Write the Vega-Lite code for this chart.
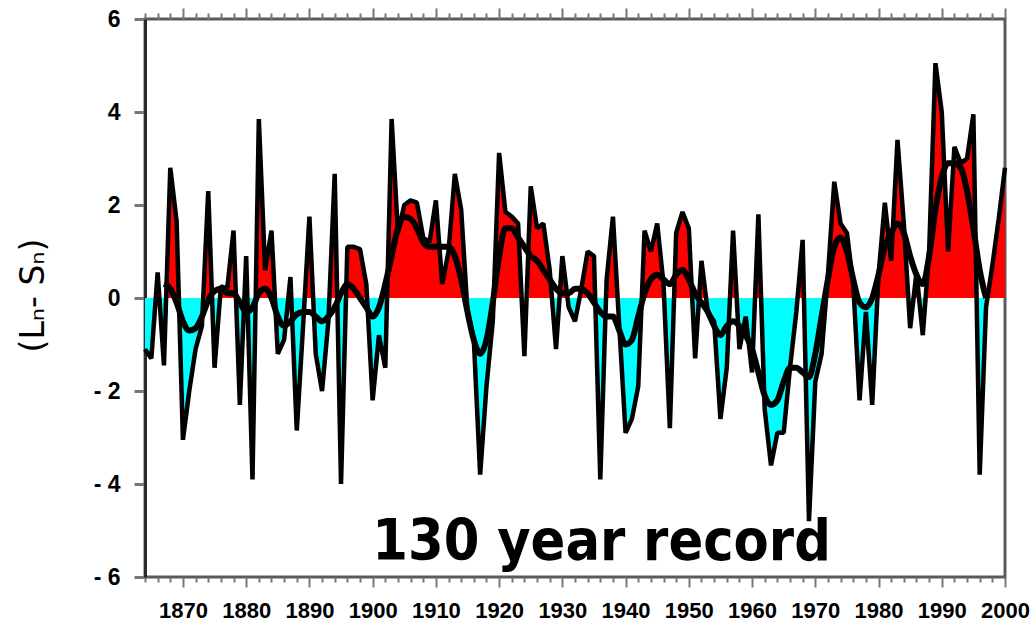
{
  "$schema": "https://vega.github.io/schema/vega-lite/v6.json",
  "width": 860,
  "height": 558,
  "autosize": "none",
  "padding": {"left": 145, "top": 19, "right": 31, "bottom": 49},
  "background": "white",
  "config": {"view": {"stroke": "#5a5a5a", "strokeWidth": 3}},
  "datasets": {
    "annual": [
      {"year":1864,"v":-1.1},{"year":1865,"v":-1.3},{"year":1866,"v":0.55},{"year":1867,"v":-1.45},{"year":1868,"v":2.8},{"year":1869,"v":1.65},
      {"year":1870,"v":-3.05},{"year":1871,"v":-2.0},{"year":1872,"v":-1.1},{"year":1873,"v":-0.6},{"year":1874,"v":2.3},{"year":1875,"v":-1.5},
      {"year":1876,"v":0.25},{"year":1877,"v":0.2},{"year":1878,"v":1.45},{"year":1879,"v":-2.3},{"year":1880,"v":0.9},{"year":1881,"v":-3.9},
      {"year":1882,"v":3.85},{"year":1883,"v":0.6},{"year":1884,"v":1.45},{"year":1885,"v":-1.2},{"year":1886,"v":-0.9},{"year":1887,"v":0.45},
      {"year":1888,"v":-2.85},{"year":1889,"v":-0.6},{"year":1890,"v":1.75},{"year":1891,"v":-1.2},{"year":1892,"v":-2.0},{"year":1893,"v":-0.5},
      {"year":1894,"v":2.67},{"year":1895,"v":-4.0},{"year":1896,"v":1.1},{"year":1897,"v":1.1},{"year":1898,"v":1.05},{"year":1899,"v":0.3},
      {"year":1900,"v":-2.2},{"year":1901,"v":-0.8},{"year":1902,"v":-1.5},{"year":1903,"v":3.85},{"year":1904,"v":1.4},{"year":1905,"v":2.0},
      {"year":1906,"v":2.1},{"year":1907,"v":2.05},{"year":1908,"v":1.3},{"year":1909,"v":1.2},{"year":1910,"v":2.1},{"year":1911,"v":0.3},
      {"year":1912,"v":1.0},{"year":1913,"v":2.67},{"year":1914,"v":1.9},{"year":1915,"v":-0.3},{"year":1916,"v":-0.9},{"year":1917,"v":-3.8},
      {"year":1918,"v":-1.9},{"year":1919,"v":-0.5},{"year":1920,"v":3.12},{"year":1921,"v":1.85},{"year":1922,"v":1.75},{"year":1923,"v":1.6},
      {"year":1924,"v":-1.25},{"year":1925,"v":2.4},{"year":1926,"v":1.5},{"year":1927,"v":1.6},{"year":1928,"v":0.6},{"year":1929,"v":-1.1},
      {"year":1930,"v":0.9},{"year":1931,"v":-0.2},{"year":1932,"v":-0.5},{"year":1933,"v":0.2},{"year":1934,"v":1.0},{"year":1935,"v":0.9},
      {"year":1936,"v":-3.9},{"year":1937,"v":0.4},{"year":1938,"v":1.75},{"year":1939,"v":-0.6},{"year":1940,"v":-2.9},{"year":1941,"v":-2.6},
      {"year":1942,"v":-1.9},{"year":1943,"v":1.45},{"year":1944,"v":1.0},{"year":1945,"v":1.6},{"year":1946,"v":0.3},{"year":1947,"v":-2.8},
      {"year":1948,"v":1.4},{"year":1949,"v":1.85},{"year":1950,"v":1.5},{"year":1951,"v":-1.3},{"year":1952,"v":0.8},{"year":1953,"v":-0.3},
      {"year":1954,"v":-0.5},{"year":1955,"v":-2.6},{"year":1956,"v":-1.5},{"year":1957,"v":1.45},{"year":1958,"v":-1.1},{"year":1959,"v":-0.4},
      {"year":1960,"v":-1.6},{"year":1961,"v":1.8},{"year":1962,"v":-2.4},{"year":1963,"v":-3.6},{"year":1964,"v":-2.9},{"year":1965,"v":-2.9},
      {"year":1966,"v":-1.5},{"year":1967,"v":-0.3},{"year":1968,"v":1.25},{"year":1969,"v":-4.8},{"year":1970,"v":-1.8},{"year":1971,"v":-1.2},
      {"year":1972,"v":0.5},{"year":1973,"v":2.5},{"year":1974,"v":1.6},{"year":1975,"v":1.4},{"year":1976,"v":0.3},{"year":1977,"v":-2.2},
      {"year":1978,"v":-0.3},{"year":1979,"v":-2.3},{"year":1980,"v":0.5},{"year":1981,"v":2.05},{"year":1982,"v":0.8},{"year":1983,"v":3.4},
      {"year":1984,"v":1.6},{"year":1985,"v":-0.65},{"year":1986,"v":0.55},{"year":1987,"v":-0.8},{"year":1988,"v":1.0},{"year":1989,"v":5.05},
      {"year":1990,"v":4.0},{"year":1991,"v":1.0},{"year":1992,"v":3.25},{"year":1993,"v":2.9},{"year":1994,"v":3.0},{"year":1995,"v":3.95},
      {"year":1996,"v":-3.8},{"year":1997,"v":-0.2},{"year":1998,"v":0.7},{"year":1999,"v":1.7},{"year":2000,"v":2.8}
    ],
    "smooth": [
      {"year":1867,"s":0.3},{"year":1868,"s":0.2},{"year":1869,"s":-0.1},{"year":1870,"s":-0.5},{"year":1871,"s":-0.7},{"year":1872,"s":-0.65},
      {"year":1873,"s":-0.4},{"year":1874,"s":-0.05},{"year":1875,"s":0.15},{"year":1876,"s":0.2},{"year":1877,"s":0.1},{"year":1878,"s":0.1},
      {"year":1879,"s":-0.1},{"year":1880,"s":-0.3},{"year":1881,"s":-0.2},{"year":1882,"s":0.1},{"year":1883,"s":0.2},{"year":1884,"s":0.0},
      {"year":1885,"s":-0.4},{"year":1886,"s":-0.6},{"year":1887,"s":-0.5},{"year":1888,"s":-0.35},{"year":1889,"s":-0.3},{"year":1890,"s":-0.3},
      {"year":1891,"s":-0.4},{"year":1892,"s":-0.5},{"year":1893,"s":-0.4},{"year":1894,"s":-0.2},{"year":1895,"s":0.1},{"year":1896,"s":0.3},
      {"year":1897,"s":0.2},{"year":1898,"s":0.0},{"year":1899,"s":-0.2},{"year":1900,"s":-0.4},{"year":1901,"s":-0.2},{"year":1902,"s":0.3},
      {"year":1903,"s":0.9},{"year":1904,"s":1.5},{"year":1905,"s":1.75},{"year":1906,"s":1.7},{"year":1907,"s":1.5},{"year":1908,"s":1.2},
      {"year":1909,"s":1.1},{"year":1910,"s":1.1},{"year":1911,"s":1.1},{"year":1912,"s":1.1},{"year":1913,"s":0.9},{"year":1914,"s":0.4},
      {"year":1915,"s":-0.3},{"year":1916,"s":-0.9},{"year":1917,"s":-1.2},{"year":1918,"s":-0.9},{"year":1919,"s":-0.1},{"year":1920,"s":0.9},
      {"year":1921,"s":1.5},{"year":1922,"s":1.5},{"year":1923,"s":1.3},{"year":1924,"s":1.1},{"year":1925,"s":0.9},{"year":1926,"s":0.8},
      {"year":1927,"s":0.6},{"year":1928,"s":0.4},{"year":1929,"s":0.2},{"year":1930,"s":0.1},{"year":1931,"s":0.1},{"year":1932,"s":0.2},
      {"year":1933,"s":0.2},{"year":1934,"s":0.1},{"year":1935,"s":-0.1},{"year":1936,"s":-0.3},{"year":1937,"s":-0.4},{"year":1938,"s":-0.4},
      {"year":1939,"s":-0.7},{"year":1940,"s":-1.0},{"year":1941,"s":-0.9},{"year":1942,"s":-0.4},{"year":1943,"s":0.1},{"year":1944,"s":0.4},
      {"year":1945,"s":0.5},{"year":1946,"s":0.4},{"year":1947,"s":0.3},{"year":1948,"s":0.5},{"year":1949,"s":0.6},{"year":1950,"s":0.4},
      {"year":1951,"s":0.1},{"year":1952,"s":-0.1},{"year":1953,"s":-0.3},{"year":1954,"s":-0.6},{"year":1955,"s":-0.8},{"year":1956,"s":-0.6},
      {"year":1957,"s":-0.5},{"year":1958,"s":-0.6},{"year":1959,"s":-0.8},{"year":1960,"s":-1.1},{"year":1961,"s":-1.6},{"year":1962,"s":-2.1},
      {"year":1963,"s":-2.3},{"year":1964,"s":-2.2},{"year":1965,"s":-1.8},{"year":1966,"s":-1.5},{"year":1967,"s":-1.5},{"year":1968,"s":-1.6},
      {"year":1969,"s":-1.7},{"year":1970,"s":-1.2},{"year":1971,"s":-0.4},{"year":1972,"s":0.4},{"year":1973,"s":1.1},{"year":1974,"s":1.3},
      {"year":1975,"s":1.0},{"year":1976,"s":0.4},{"year":1977,"s":-0.1},{"year":1978,"s":-0.2},{"year":1979,"s":0.0},{"year":1980,"s":0.5},
      {"year":1981,"s":1.1},{"year":1982,"s":1.4},{"year":1983,"s":1.6},{"year":1984,"s":1.4},{"year":1985,"s":0.9},{"year":1986,"s":0.5},
      {"year":1987,"s":0.3},{"year":1988,"s":0.9},{"year":1989,"s":1.9},{"year":1990,"s":2.6},{"year":1991,"s":2.9},{"year":1992,"s":2.9},
      {"year":1993,"s":2.8},{"year":1994,"s":2.3},{"year":1995,"s":1.5},{"year":1996,"s":0.6},{"year":1997,"s":0.0}
    ],
    "note": [
      {"label": "130 year record"}
    ]
  },
  "resolve": {"axis": {"x": "independent"}},
  "layer": [
    {
      "data": {"name": "annual"},
      "mark": {
        "type": "area",
        "interpolate": "linear",
        "color": {
          "gradient": "linear", "x1": 0, "y1": 0, "x2": 0, "y2": 1,
          "stops": [
            {"offset": 0, "color": "#ff0000"},
            {"offset": 0.5127, "color": "#ff0000"},
            {"offset": 0.5127, "color": "#00ffff"},
            {"offset": 1, "color": "#00ffff"}
          ]
        }
      },
      "encoding": {
        "x": {
          "field": "year", "type": "quantitative",
          "scale": {"domain": [1864, 2000], "nice": false, "zero": false},
          "axis": {
            "orient": "bottom", "title": null, "domain": false, "grid": false,
            "values": [1864,1866,1868,1870,1872,1874,1876,1878,1880,1882,1884,1886,1888,1890,1892,1894,1896,1898,1900,1902,1904,1906,1908,1910,1912,1914,1916,1918,1920,1922,1924,1926,1928,1930,1932,1934,1936,1938,1940,1942,1944,1946,1948,1950,1952,1954,1956,1958,1960,1962,1964,1966,1968,1970,1972,1974,1976,1978,1980,1982,1984,1986,1988,1990,1992,1994,1996,1998,2000],
            "tickSize": {"condition": {"test": "datum.value % 10 === 0", "value": 10}, "value": 5},
            "tickColor": "#777", "tickWidth": 2,
            "labelExpr": "datum.value % 10 === 0 ? datum.label : ''",
            "format": "d", "labelOverlap": false, "labelFlush": false, "labelBound": false, "labelPadding": 13,
            "labelFont": "Liberation Sans", "labelFontWeight": "bold", "labelFontSize": 22, "labelColor": "#000"
          }
        },
        "y": {
          "field": "v", "type": "quantitative",
          "scale": {"domain": [-6, 6], "nice": false, "zero": false},
          "axis": {
            "orient": "left", "values": [-6, -4, -2, 0, 2, 4, 6], "grid": false,
            "domain": true, "domainColor": "#2a2a2a", "domainWidth": 3,
            "tickSize": 11, "tickColor": "#777", "tickWidth": 3,
            "labelPadding": 14, "labelFlush": false,
            "labelExpr": "datum.value < 0 ? '- ' + abs(datum.value) : datum.label",
            "labelFont": "Liberation Sans", "labelFontWeight": "bold", "labelFontSize": 23, "labelColor": "#000",
            "title": "(Lₙ- Sₙ)", "titleFont": "DejaVu Sans", "titleFontWeight": "normal", "titleFontSize": 33,
            "titleColor": "#000", "titleAngle": -90, "titleBaseline": "middle", "titleAlign": "center",
            "titleX": -112, "titleY": 276
          }
        },
        "y2": {"datum": 0}
      }
    },
    {
      "mark": {"type": "rule", "color": "#9a9a9a", "strokeWidth": 3},
      "encoding": {"y": {"datum": -0.075}}
    },
    {
      "mark": {"type": "rule", "color": "#000", "strokeWidth": 3},
      "encoding": {"y": {"datum": 0}}
    },
    {
      "data": {"name": "annual"},
      "mark": {"type": "line", "color": "#000", "strokeWidth": 4.5, "strokeJoin": "bevel"},
      "encoding": {
        "x": {
          "field": "year", "type": "quantitative",
          "axis": {
            "orient": "top", "title": null, "domain": false, "grid": false, "labels": false,
            "values": [1864,1866,1868,1870,1872,1874,1876,1878,1880,1882,1884,1886,1888,1890,1892,1894,1896,1898,1900,1902,1904,1906,1908,1910,1912,1914,1916,1918,1920,1922,1924,1926,1928,1930,1932,1934,1936,1938,1940,1942,1944,1946,1948,1950,1952,1954,1956,1958,1960,1962,1964,1966,1968,1970,1972,1974,1976,1978,1980,1982,1984,1986,1988,1990,1992,1994,1996,1998,2000],
            "tickSize": {"condition": {"test": "datum.value % 10 === 0", "value": 11}, "value": 6},
            "tickColor": "#777", "tickWidth": 2
          }
        },
        "y": {"field": "v", "type": "quantitative"}
      }
    },
    {
      "data": {"name": "smooth"},
      "mark": {"type": "line", "color": "#000", "strokeWidth": 6, "interpolate": "monotone"},
      "encoding": {
        "x": {"field": "year", "type": "quantitative", "axis": null},
        "y": {"field": "s", "type": "quantitative"}
      }
    },
    {
      "data": {"name": "note"},
      "mark": {"type": "text", "font": "DejaVu Sans Condensed", "fontWeight": "bold", "fontSize": 57, "align": "center", "baseline": "alphabetic", "color": "#000"},
      "encoding": {
        "text": {"field": "label", "type": "nominal"},
        "x": {"datum": 1936.2, "type": "quantitative", "axis": null},
        "y": {"datum": -5.63, "type": "quantitative"}
      }
    }
  ]
}
